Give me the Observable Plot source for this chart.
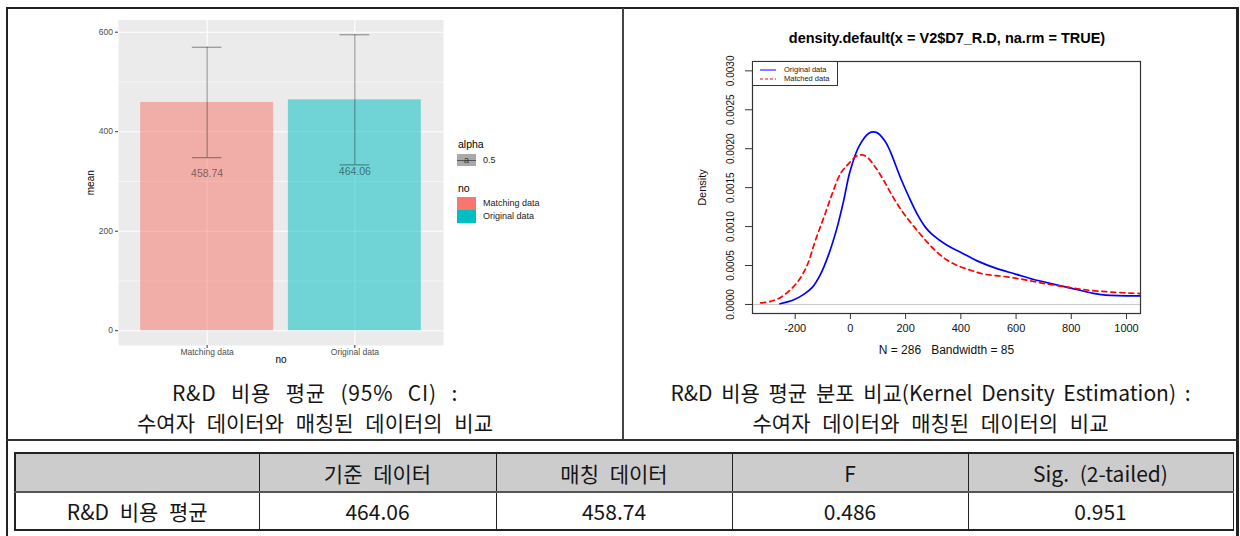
<!DOCTYPE html>
<html>
<head>
<meta charset="utf-8">
<script src="https://cdn.jsdelivr.net/npm/d3@7"></script>
<script src="https://cdn.jsdelivr.net/npm/@observablehq/plot@0.6"></script>
<style>
  html, body { margin: 0; padding: 0; background: #fff; }
  #page { position: relative; width: 1240px; height: 536px; overflow: hidden; background: #fff; }
  .abs { position: absolute; }
  .abs svg { display: block; }
  .line { position: absolute; background: #222; }
  .cap { position: absolute; text-align: center; font-family: "Noto Sans CJK KR", sans-serif; font-size: 21px; line-height: 30px; color: #151515; white-space: nowrap; }
  .lg { position: absolute; font-family: "Liberation Sans", Arial, sans-serif; color: #000; white-space: nowrap; }
  table.t { position: absolute; left: 14px; top: 452px; border-collapse: collapse; table-layout: fixed; font-family: "Noto Sans CJK KR", sans-serif; font-size: 21px; color: #151515; }
  table.t td { text-align: center; padding: 0; border: 1px solid #222; word-spacing: 6px; white-space: nowrap; }
  table.t tr.h td { background: #cccccc; height: 37px; border-top: 2px solid #222; border-bottom: 2px solid #555; }
  table.t tr.r td { height: 36px; border-bottom: 2px solid #222; }
  table.t td:first-child { border-left: 2px solid #222; }
</style>
</head>
<body>
<div id="page"></div>
<script>
// ---------- data: left panel (bar chart of means with 95% CI) ----------
const groups = ["Matching data", "Original data"];
const means = [458.74, 464.06];
const ciLow = [347.7, 333.3];
const ciHigh = [569.8, 594.8];
const groupColors = ["#F8766D", "#00BFC4"];
const barYTicks = [0, 200, 400, 600];
const barYMinor = [100, 300, 500];

// ---------- data: right panel (kernel density) ----------
const origX = [-255, -205, -169, -138, -108, -78, -48, -24, -2, 31, 67, 94, 125, 145, 181, 212, 242, 272, 296, 350, 399, 459, 531, 598, 664, 749, 797, 870, 924, 1050];
const origY = [0.0000086, 0.00006, 0.00013, 0.00022, 0.00039, 0.00065, 0.00099, 0.00134, 0.0017, 0.00203, 0.0022, 0.00221, 0.0021, 0.00196, 0.00163, 0.00138, 0.00116, 0.00099, 0.0009, 0.00076, 0.00067, 0.00056, 0.00046, 0.00039, 0.00032, 0.00025, 0.00021, 0.00015, 0.00012, 0.00011];
const matchX = [-325, -289, -253, -217, -187, -157, -127, -96, -66, -36, -6, 24, 42, 61, 91, 121, 151, 181, 212, 242, 278, 314, 350, 387, 435, 483, 555, 628, 700, 773, 845, 942, 1050];
const matchY = [0.00002, 0.00004, 0.00009, 0.00019, 0.00031, 0.0005, 0.00082, 0.00112, 0.00142, 0.00168, 0.00181, 0.00191, 0.00192, 0.00189, 0.00176, 0.00159, 0.0014, 0.00123, 0.00108, 0.00095, 0.0008, 0.00067, 0.00057, 0.0005, 0.00044, 0.00039, 0.00036, 0.00032, 0.00027, 0.00023, 0.00019, 0.00016, 0.00014];
const densXTicks = [-200, 0, 200, 400, 600, 800, 1000];
const densYTicks = [0, 0.0005, 0.001, 0.0015, 0.002, 0.0025, 0.003];
const densXDomain = [-354.6, 1050.7];
const densYDomain = [-0.000116, 0.00312];
const densSeries = ["Original data", "Matched data"];
const densColors = ["#0000FF", "#FF0000"];
const densTitle = "density.default(x = V2$D7_R.D, na.rm = TRUE)";
const densN = 286, densBw = 85;

// ---------- data: captions & table ----------
const leftCaption = ["R&D 비용 평균 (95% CI) :", "수여자 데이터와 매칭된 데이터의 비교"];
const rightCaption = ["R&D 비용 평균 분포 비교(Kernel Density Estimation) :", "수여자 데이터와 매칭된 데이터의 비교"];
const tableHeader = ["", "기준 데이터", "매칭 데이터", "F", "Sig. (2-tailed)"];
const tableRow = ["R&D 비용 평균", "464.06", "458.74", "0.486", "0.951"];
const tableColWidths = [244, 237, 236, 236, 265];

// ---------- page frame ----------
const page = document.getElementById("page");
function addDiv(cls, style, html) {
  const d = document.createElement("div");
  d.className = cls;
  d.setAttribute("style", style);
  if (html != null) d.innerHTML = html;
  page.appendChild(d);
  return d;
}
addDiv("line", "left:6px;top:7px;width:1233px;height:2px;");
addDiv("line", "left:6px;top:7px;width:2px;height:540px;");
addDiv("line", "left:1236px;top:7px;width:3px;height:540px;");
addDiv("line", "left:622px;top:8px;width:2px;height:432px;background:#444;");
addDiv("line", "left:6px;top:439px;width:1233px;height:2px;background:#333;");

// ---------- left chart ----------
const barData = groups.map((g, i) => ({group: g, pos: i + 1, mean: means[i], lo: ciLow[i], hi: ciHigh[i], color: groupColors[i]}));
const yMax = d3.max(ciHigh);
const yPad = 0.05 * yMax;
const leftPlot = Plot.plot({
  width: 620, height: 376,
  marginLeft: 118, marginRight: 177, marginTop: 19.5, marginBottom: 31,
  x: {type: "linear", domain: [0.4, 2.6]},
  y: {type: "linear", domain: [-yPad, yMax + yPad]},
  style: {background: "transparent", fontFamily: "Liberation Sans, Arial, sans-serif"},
  marks: [
    Plot.frame({fill: "#EBEBEB", stroke: null}),
    Plot.gridY(barYMinor, {stroke: "#fff", strokeOpacity: 1, strokeWidth: 0.6}),
    Plot.gridY(barYTicks, {stroke: "#fff", strokeOpacity: 1, strokeWidth: 1.1}),
    Plot.gridX(barData.map(d => d.pos), {stroke: "#fff", strokeOpacity: 1, strokeWidth: 1.1}),
    Plot.rectY(barData, {x1: d => d.pos - 0.45, x2: d => d.pos + 0.45, y1: 0, y2: "mean", fill: "color", fillOpacity: 0.52}),
    Plot.ruleX(barData, {x: "pos", y1: "lo", y2: "hi", stroke: "#000", strokeOpacity: 0.45, strokeWidth: 1}),
    Plot.ruleY(barData, {y: "lo", x1: d => d.pos - 0.1, x2: d => d.pos + 0.1, stroke: "#000", strokeOpacity: 0.45, strokeWidth: 1}),
    Plot.ruleY(barData, {y: "hi", x1: d => d.pos - 0.1, x2: d => d.pos + 0.1, stroke: "#000", strokeOpacity: 0.45, strokeWidth: 1}),
    Plot.text(barData, {x: "pos", y: d => d.mean * 0.69, text: d => d3.format(".2f")(d.mean), fill: "#000", fillOpacity: 0.5, fontSize: 10.5}),
    Plot.axisY(barYTicks, {tickSize: 3, tickPadding: 2.5, fontSize: 8.5, fill: "#4D4D4D", stroke: "#333", label: null}),
    Plot.axisX(barData.map(d => d.pos), {tickSize: 3, tickPadding: 0.5, fontSize: 8.5, fill: "#4D4D4D", stroke: "#333", tickFormat: p => groups[p - 1], label: null}),
    Plot.text(["mean"], {frameAnchor: "left", textAnchor: "middle", dx: -28, rotate: -90, fontSize: 10, fill: "#000"}),
    Plot.text(["no"], {frameAnchor: "bottom", dy: 17.5, fontSize: 10, fill: "#000"})
  ]
});
leftPlot.style.position = "absolute";
leftPlot.style.left = "0px";
leftPlot.style.top = "0px";
page.appendChild(leftPlot);

// ggplot-style legends
addDiv("lg", "left:458px;top:138px;font-size:10.5px;", "alpha");
addDiv("abs", "left:457px;top:154px;width:19px;height:12px;background:#a9a9a9;");
addDiv("abs", "left:457px;top:160px;width:19px;height:1px;background:#555;");
addDiv("lg", "left:457px;top:154px;width:19px;text-align:center;font-size:9px;line-height:12px;color:#333;", "a");
addDiv("lg", "left:483px;top:154px;font-size:9px;line-height:12px;color:#222;", "0.5");
addDiv("lg", "left:458px;top:182px;font-size:10.5px;", "no");
groups.forEach((g, i) => {
  addDiv("abs", `left:457px;top:${197 + i * 13}px;width:19px;height:12.5px;background:${groupColors[i]};`);
  addDiv("lg", `left:483px;top:${197 + i * 13}px;font-size:9px;line-height:12.5px;color:#222;`, g);
});

// ---------- right chart ----------
const densData = [
  ...origX.map((x, i) => ({series: densSeries[0], x, y: origY[i]})),
  ...matchX.map((x, i) => ({series: densSeries[1], x, y: matchY[i]}))
];
const rightPlot = Plot.plot({
  width: 616, height: 370,
  marginLeft: 128, marginRight: 100, marginTop: 61, marginBottom: 57,
  x: {type: "linear", domain: densXDomain},
  y: {type: "linear", domain: densYDomain},
  style: {background: "transparent", fontFamily: "Liberation Sans, Arial, sans-serif"},
  marks: [
    Plot.ruleY([0], {stroke: "#c8c8c8", strokeWidth: 1}),
    Plot.line(densData.filter(d => d.series === densSeries[0]), {x: "x", y: "y", stroke: densColors[0], strokeWidth: 1.7, curve: "catmull-rom"}),
    Plot.line(densData.filter(d => d.series === densSeries[1]), {x: "x", y: "y", stroke: densColors[1], strokeWidth: 1.7, strokeDasharray: "5,4", curve: "catmull-rom"}),
    Plot.frame({stroke: "#333", strokeWidth: 1.2}),
    Plot.axisX(densXTicks, {tickSize: 6, tickPadding: 5, fontSize: 11, fill: "#111", stroke: "#333", tickFormat: d => String(d), label: null}),
    Plot.axisY(densYTicks, {tickSize: 7, tickFormat: () => "", stroke: "#333", label: null}),
    Plot.text(densYTicks, {y: d => d, frameAnchor: "left", textAnchor: "middle", dx: -22, rotate: -90, text: d => d.toFixed(4), fontSize: 10, fill: "#111"}),
    Plot.text(["Density"], {frameAnchor: "left", textAnchor: "middle", dx: -50, rotate: -90, fontSize: 11, fill: "#111"}),
    Plot.text([`N = ${densN}\u00a0\u00a0\u00a0Bandwidth = ${densBw}`], {frameAnchor: "bottom", dy: 40, fontSize: 12, fill: "#111"})
  ]
});
rightPlot.style.position = "absolute";
rightPlot.style.left = "624px";
rightPlot.style.top = "0px";
page.appendChild(rightPlot);

// base-R title and legend
addDiv("lg", "left:624px;width:646px;top:30px;text-align:center;font-size:14.5px;font-weight:bold;color:#000;", densTitle);
addDiv("abs", "left:752px;top:61px;width:86px;height:25px;border:1.2px solid #333;box-sizing:border-box;background:#fff;");
densSeries.forEach((s, i) => {
  const dash = i === 1 ? 'stroke-dasharray="3,2"' : "";
  addDiv("abs", `left:760px;top:${67 + i * 8.5}px;width:16px;height:6px;`,
    `<svg width="16" height="6"><line x1="0" x2="16" y1="3" y2="3" stroke="${densColors[i]}" stroke-width="1" ${dash}/></svg>`);
  addDiv("lg", `left:784px;top:${66 + i * 8.5}px;font-size:7.5px;line-height:8px;color:#222;`, s);
});

// ---------- captions ----------
const capSpacing = [[9, 7], [4, 7]];
const capLetter = [[0.8, 0], [0, 0]];
function caption(left, width, lines, ws, ls) {
  addDiv("cap", `left:${left}px;width:${width}px;top:377px;`,
    lines.map((t, i) => `<div style="word-spacing:${ws[i]}px;letter-spacing:${ls[i]}px">${t.replace(/&/g, "&amp;")}</div>`).join(""));
}
caption(7, 616, leftCaption, capSpacing[0], capLetter[0]);
caption(623, 615, rightCaption, capSpacing[1], capLetter[1]);

// ---------- table ----------
const table = document.createElement("table");
table.className = "t";
const cg = document.createElement("colgroup");
tableColWidths.forEach(w => { const c = document.createElement("col"); c.style.width = w + "px"; cg.appendChild(c); });
table.appendChild(cg);
[[tableHeader, "h"], [tableRow, "r"]].forEach(([cells, cls]) => {
  const tr = document.createElement("tr");
  tr.className = cls;
  cells.forEach(c => { const td = document.createElement("td"); td.textContent = c; tr.appendChild(td); });
  table.appendChild(tr);
});
table.style.width = d3.sum(tableColWidths) + "px";
page.appendChild(table);
</script>
</body>
</html>
